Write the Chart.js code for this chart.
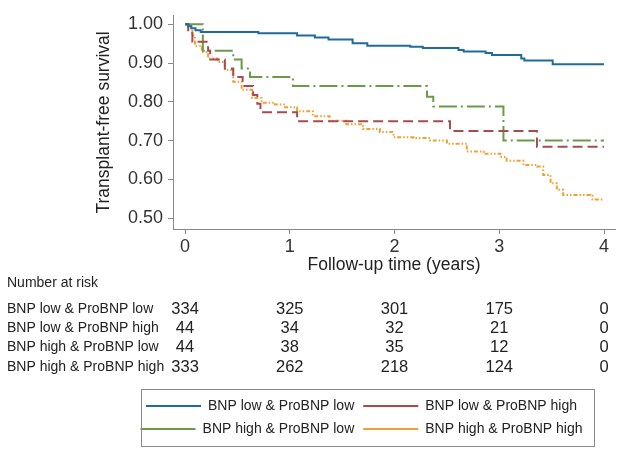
<!DOCTYPE html>
<html>
<head>
<meta charset="utf-8">
<script src="https://cdn.jsdelivr.net/npm/chart.js@4.4.0/dist/chart.umd.min.js"></script>
<style>
  html, body { margin: 0; padding: 0; background: #fff; }
</style>
</head>
<body>
<canvas id="kmChart" width="624" height="455"></canvas>
<script>
var groupNames = ['BNP low & ProBNP low', 'BNP low & ProBNP high', 'BNP high & ProBNP low', 'BNP high & ProBNP high'];

var lowLowTimes = [0, 0.03, 0.06, 0.1, 0.15, 0.7, 1.07, 1.24, 1.37, 1.6, 1.74, 2.15, 2.27, 2.61, 2.66, 2.87, 2.93, 3.21, 3.24, 3.51, 4.0];
var lowLowSurv = [1, 0.995, 0.99, 0.985, 0.98, 0.977, 0.971, 0.966, 0.961, 0.951, 0.945, 0.942, 0.939, 0.934, 0.930, 0.926, 0.921, 0.912, 0.907, 0.897, 0.897];

var lowHighTimes = [0, 0.03, 0.07, 0.22, 0.24, 0.38, 0.46, 0.55, 0.65, 0.69, 0.72, 1.07, 2.53, 3.36, 4.0];
var lowHighSurv = [1, 0.977, 0.955, 0.932, 0.909, 0.886, 0.864, 0.841, 0.818, 0.795, 0.773, 0.75, 0.725, 0.684, 0.684];

var highLowTimes = [0, 0.17, 0.46, 0.54, 0.62, 1.03, 2.31, 2.37, 3.04, 4.0];
var highLowSurv = [1, 0.932, 0.909, 0.886, 0.864, 0.841, 0.813, 0.788, 0.70, 0.70];

var highHighTimes = [0, 0.05, 0.07, 0.095, 0.16, 0.22, 0.31, 0.38, 0.46, 0.54, 0.64, 0.73, 0.86, 0.955, 1.07, 1.22, 1.38, 1.54, 1.7, 1.86, 1.99, 2.18, 2.34, 2.5, 2.69, 2.85, 3.01, 3.07, 3.23, 3.36, 3.42, 3.49, 3.55, 3.61, 3.87, 3.89, 3.99];
var highHighSurv = [1, 0.99, 0.971, 0.945, 0.928, 0.912, 0.903, 0.882, 0.852, 0.831, 0.81, 0.798, 0.793, 0.786, 0.776, 0.763, 0.751, 0.742, 0.73, 0.722, 0.709, 0.707, 0.70, 0.692, 0.672, 0.666, 0.658, 0.648, 0.637, 0.633, 0.611, 0.59, 0.573, 0.56, 0.558, 0.548, 0.548];

var xTicks = [0, 1, 2, 3, 4];
var yTicks = [0.5, 0.6, 0.7, 0.8, 0.9, 1.0];

var riskTimes = [0, 1, 2, 3, 4];
var riskCounts = [
  [334, 325, 301, 175, 0],
  [44, 34, 32, 21, 0],
  [44, 38, 35, 12, 0],
  [333, 262, 218, 124, 0]
];

function toPoints(times, surv) {
  return times.map(function(t, i) { return {x: t, y: surv[i]}; });
}

var fontFamily = '"Liberation Sans", Arial, sans-serif';
Chart.defaults.font.family = fontFamily;
Chart.defaults.color = '#333';

// number-at-risk table and legend frame
var riskTablePlugin = {
  id: 'riskTable',
  afterLayout: function(chart) {
    var lg = chart.legend;
    lg.left += 54; lg.right += 54;
  },
  afterDraw: function(chart) {
    var ctx = chart.ctx;
    var xs = chart.scales.x;
    ctx.save();
    ctx.fillStyle = '#222';
    ctx.textBaseline = 'middle';
    ctx.textAlign = 'left';
    ctx.font = '14px ' + fontFamily;
    ctx.fillText('Number at risk', 7, 283);
    var rowY = [309, 328.5, 347.5, 367];
    groupNames.forEach(function(name, i) {
      ctx.font = '14px ' + fontFamily;
      ctx.textAlign = 'left';
      ctx.fillText(name, 7, rowY[i]);
      ctx.font = '16.5px ' + fontFamily;
      ctx.textAlign = 'center';
      riskCounts[i].forEach(function(n, j) {
        ctx.fillText(String(n), xs.getPixelForValue(riskTimes[j]), rowY[i]);
      });
    });

    var boxes = chart.legend.legendHitBoxes;
    var l = Infinity, r = -Infinity, t = Infinity, b = -Infinity;
    boxes.forEach(function(h) {
      l = Math.min(l, h.left); r = Math.max(r, h.left + h.width);
      t = Math.min(t, h.top); b = Math.max(b, h.top + h.height);
    });
    ctx.strokeStyle = '#8a8a8a';
    ctx.lineWidth = 1;
    ctx.strokeRect(Math.round(l) + 0.5, Math.round(t - 10) + 0.5, Math.round(r - l + 11), Math.round(b - t + 20));
    ctx.restore();
  }
};

var ctx = document.getElementById('kmChart').getContext('2d');

var kmChart = new Chart(ctx, {
  type: 'line',
  data: {
    datasets: [{
      label: groupNames[0],
      data: toPoints(lowLowTimes, lowLowSurv),
      borderColor: '#1f6b9c',
      backgroundColor: '#1f6b9c',
      borderWidth: 2
    }, {
      label: groupNames[1],
      data: toPoints(lowHighTimes, lowHighSurv),
      borderColor: '#a84b4e',
      backgroundColor: '#a84b4e',
      borderWidth: 2,
      borderDash: [10, 5]
    }, {
      label: groupNames[2],
      data: toPoints(highLowTimes, highLowSurv),
      borderColor: '#6a9a48',
      backgroundColor: '#6a9a48',
      borderWidth: 2,
      borderDash: [18, 4, 2, 4]
    }, {
      label: groupNames[3],
      data: toPoints(highHighTimes, highHighSurv),
      borderColor: '#f0a030',
      backgroundColor: '#f0a030',
      borderWidth: 2,
      borderDash: [4, 2, 1.5, 2, 1.5, 2]
    }]
  },
  options: {
    responsive: false,
    animation: false,
    events: [],
    elements: {
      line: { stepped: 'before', fill: false, tension: 0 },
      point: { radius: 0 }
    },
    layout: { padding: { top: 10, right: 9, left: 0, bottom: 9 } },
    scales: {
      x: {
        type: 'linear',
        min: -0.115,
        max: 4.105,
        afterBuildTicks: function(scale) {
          scale.ticks = xTicks.map(function(v) { return {value: v}; });
        },
        afterFit: function(scale) { scale.height = 161; },
        grid: { display: true, drawOnChartArea: false, drawTicks: true, tickLength: 5, color: '#888' },
        border: { display: true, color: '#888', width: 1 },
        ticks: { font: { size: 18 }, color: '#333', padding: 2, maxRotation: 0 },
        title: {
          display: true,
          text: 'Follow-up time (years)',
          font: { size: 17.5 },
          color: '#222',
          padding: { top: 0, bottom: 114 }
        }
      },
      y: {
        min: 0.472,
        max: 1.022,
        afterBuildTicks: function(scale) {
          scale.ticks = yTicks.map(function(v) { return {value: v}; });
        },
        afterFit: function(scale) { scale.width = 173; },
        grid: { display: true, drawOnChartArea: false, drawTicks: true, tickLength: 5, color: '#888' },
        border: { display: true, color: '#888', width: 1 },
        ticks: {
          font: { size: 18 },
          color: '#333',
          padding: 5,
          callback: function(v) { return Number(v).toFixed(2); }
        },
        title: {
          display: true,
          text: 'Transplant-free survival',
          font: { size: 17.5 },
          color: '#222',
          padding: { top: 94, bottom: 0 }
        }
      }
    },
    plugins: {
      tooltip: { enabled: false },
      legend: {
        position: 'bottom',
        align: 'center',
        labels: {
          usePointStyle: true,
          pointStyle: 'line',
          pointStyleWidth: 55,
          boxHeight: 14,
          padding: 9,
          color: '#222',
          font: { size: 14 }
        }
      }
    }
  },
  plugins: [riskTablePlugin]
});
</script>
</body>
</html>
